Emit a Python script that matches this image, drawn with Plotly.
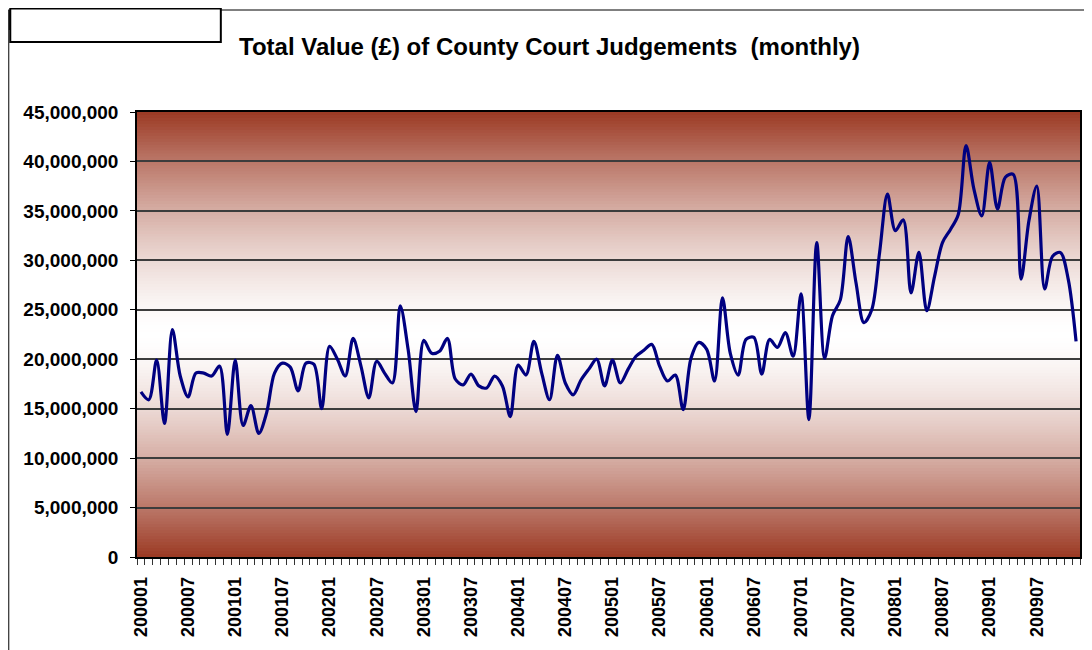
import plotly.graph_objects as go

# ---- data (values in pounds) ----
years = list(range(2000, 2010))
months = list(range(1, 13))
categories = [f"{y}{m:02d}" for y in years for m in months]

values_m = [
    16.7, 15.9, 19.9, 13.5, 23.0, 18.3, 16.2, 18.6, 18.6, 18.3, 19.3, 12.4,   # 2000
    19.9, 13.3, 15.3, 12.5, 14.6, 18.6, 19.6, 19.2, 16.8, 19.6, 19.5, 15.0,   # 2001
    21.3, 20.0, 18.3, 22.1, 19.3, 16.1, 19.8, 18.6, 17.6, 25.4, 21.0, 14.7,   # 2002
    21.9, 20.6, 20.8, 22.1, 18.0, 17.4, 18.5, 17.3, 17.1, 18.3, 17.3, 14.2,   # 2003
    19.4, 18.4, 21.8, 18.6, 15.9, 20.4, 17.6, 16.4, 17.9, 19.0, 20.0, 17.3,   # 2004
    19.9, 17.6, 19.0, 20.3, 20.9, 21.5, 19.3, 17.8, 18.4, 14.9, 20.1, 21.7,   # 2005
    21.0, 17.8, 26.2, 20.6, 18.4, 22.0, 22.2, 18.5, 22.0, 21.2, 22.7, 20.3,   # 2006
    26.6, 13.9, 31.8, 20.1, 24.4, 26.0, 32.4, 27.7, 23.7, 25.0, 30.8, 36.7,   # 2007
    33.0, 34.1, 26.7, 30.8, 24.9, 28.4, 31.8, 33.1, 34.6, 41.6, 37.2, 34.5,   # 2008
    39.9, 35.2, 38.4, 38.7, 28.1, 34.0, 37.5, 27.1, 30.4, 30.8, 28.1, 21.8,   # 2009
]
values = [v * 1_000_000 for v in values_m]

label_step = 6
tick_idx = list(range(0, len(categories), label_step))
tick_text = [categories[i] for i in tick_idx]

title_text = "Total Value (£) of County Court Judgements  (monthly)"

# ---- figure geometry (page pixels; the page body adds an 8px offset) ----
OFF = 8
W, H = 1092 - OFF, 650 - OFF
L, R, T, B = 137 - OFF, 1082 - OFF, 112 - OFF, 557 - OFF
PW, PH = R - L, B - T


def px(x):
    return (x - OFF - L) / PW


def py(y):
    return 1 - (y - OFF - T) / PH


fig = go.Figure()
x_idx = list(range(len(categories)))
fig.add_trace(go.Scatter(
    x=x_idx, y=values, mode="lines",
    line=dict(color="#000080", width=3.2, shape="spline", smoothing=0.9),
    hoverinfo="skip", showlegend=False,
))

# gradient background (dark red at top/bottom, white in the middle)
edge = (155, 57, 35)
shapes = []
n = 150
ymax = 45e6
for k in range(n):
    y0 = ymax * k / n
    y1 = min(ymax, ymax * (k + 1.6) / n)
    mid = (k + 0.5) / n
    t = abs(mid - 0.5) * 2
    f = t ** 1.5
    c = tuple(round(255 + (e - 255) * f) for e in edge)
    shapes.append(dict(type="rect", xref="x domain", yref="y", x0=0, x1=1,
                       y0=y0, y1=y1, fillcolor=f"rgb{c}", line=dict(width=0),
                       layer="below"))

# chart frame lines and top-left box
shapes.append(dict(type="line", xref="paper", yref="paper",
                   x0=px(8.5), x1=px(8.5), y0=py(10), y1=py(660),
                   line=dict(color="#000000", width=1)))
shapes.append(dict(type="line", xref="paper", yref="paper",
                   x0=px(8), x1=px(1100), y0=py(10), y1=py(10),
                   line=dict(color="#000000", width=1)))
shapes.append(dict(type="rect", xref="paper", yref="paper",
                   x0=px(8), x1=px(10), y0=py(30), y1=py(10),
                   fillcolor="#333333", line=dict(width=0)))
shapes.append(dict(type="rect", xref="paper", yref="paper",
                   x0=px(10), x1=px(221), y0=py(42), y1=py(8.5),
                   fillcolor="white", line=dict(color="#000000", width=2)))

fig.update_layout(
    width=W, height=H,
    margin=dict(l=L, r=W - R, t=T, b=H - B, pad=0),
    paper_bgcolor="white", plot_bgcolor="white",
    shapes=shapes,
    showlegend=False,
    annotations=[dict(
        text=title_text, xref="paper", yref="paper",
        x=px(550), y=py(46), xanchor="center", yanchor="middle",
        showarrow=False,
        font=dict(family="Liberation Sans, Arial, sans-serif", size=24,
                  color="black", weight="bold"),
    )],
)

fig.update_xaxes(
    range=[-0.5, len(categories) - 0.5],
    tickmode="array", tickvals=tick_idx, ticktext=tick_text,
    tickangle=-90, ticks="outside", ticklen=11, tickcolor="rgba(0,0,0,0)",
    tickfont=dict(family="Liberation Sans, Arial, sans-serif", size=18,
                  color="black", weight="bold"),
    showgrid=False, zeroline=False,
    showline=True, linecolor="black", linewidth=1.5, mirror=True,
    minor=dict(tickmode="array",
               tickvals=[i - 0.5 for i in range(len(categories) + 1)],
               ticks="outside", ticklen=6, tickcolor="#333333", tickwidth=1,
               showgrid=False),
)

fig.update_yaxes(
    range=[0, 45e6], tickmode="linear", tick0=0, dtick=5e6,
    tickformat=",d",
    ticks="outside", ticklen=5, tickcolor="black", tickwidth=1,
    ticklabelstandoff=8,
    tickfont=dict(family="Liberation Sans, Arial, sans-serif", size=19,
                  color="black", weight="bold"),
    showgrid=True, gridcolor="#3c3c3c", gridwidth=1.5,
    zeroline=False,
    showline=True, linecolor="black", linewidth=1.5, mirror=True,
)

fig.write_html("out.html")
